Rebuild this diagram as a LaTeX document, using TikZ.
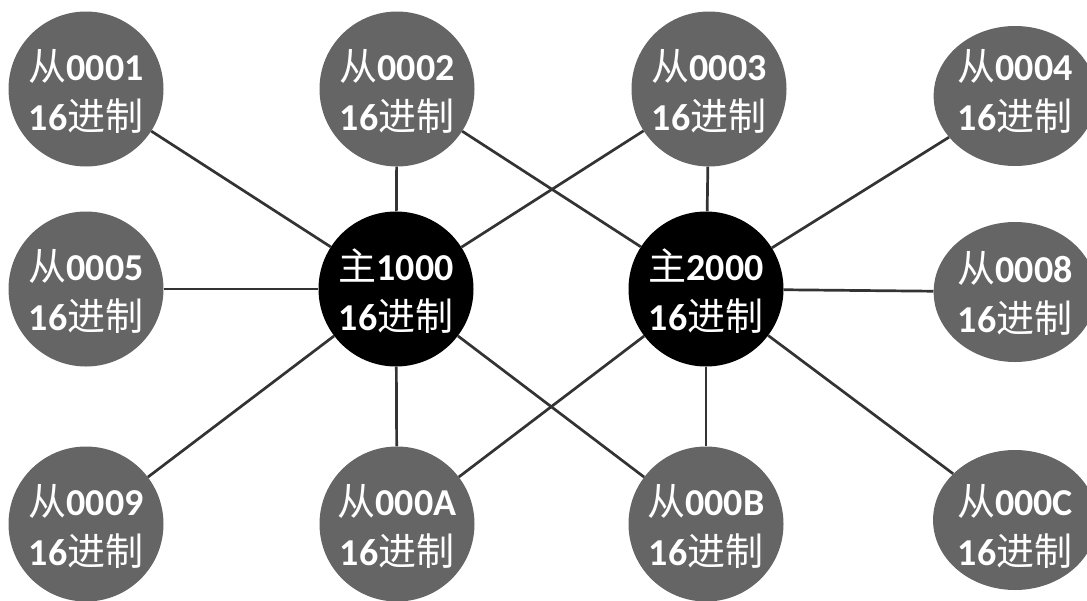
\documentclass[tikz,border=0pt]{standalone}
\usepackage{fontspec}
\setmainfont{Carlito}
\newfontfamily\cjk{Noto Sans CJK SC}
\usetikzlibrary{shapes.geometric}
\definecolor{slavefill}{HTML}{656565}
\definecolor{linkcol}{HTML}{333333}
\tikzset{
  base/.style={text=white, inner sep=0pt, font=\fontsize{38}{46}\selectfont},
  slave/.style={base, circle, fill=slavefill, minimum size=155pt},
  slaveR/.style={base, ellipse, fill=slavefill, minimum width=155pt, minimum height=140pt},
  master/.style={base, circle, fill=black, minimum size=155pt},
  link/.style={draw=linkcol, line width=2.7pt}
}
\newcommand{\twolines}[3]{\raisebox{-#1}[\height][\depth]{\begin{tabular}{@{}c@{}}#2\\[4pt]#3\end{tabular}}}
\newcommand{\slv}[2][7pt]{\twolines{#1}{{\cjk 从}\textbf{#2}}{\textbf{16}{\cjk 进制}}}
\newcommand{\mst}[1]{\twolines{7pt}{{\cjk 主}\textbf{#1}}{\textbf{16}{\cjk 进制}}}
\begin{document}
\begin{tikzpicture}[x=1pt,y=-1pt]
\useasboundingbox (0,0) rectangle (1087,600);
\node[slave] (s1) at (86,89) {\slv{0001}};
\node[slave] (s2) at (397,89) {\slv{0002}};
\node[slave] (s3) at (709,89) {\slv{0003}};
\node[slaveR] (s4) at (1015,96) {\slv[0pt]{0004}};
\node[slave] (s5) at (86,289) {\slv{0005}};
\node[master] (m1) at (396,289) {\mst{1000}};
\node[master] (m2) at (706,289) {\mst{2000}};
\node[slaveR] (s8) at (1015,292) {\slv[6pt]{0008}};
\node[slave] (s9) at (86,524) {\slv{0009}};
\node[slave] (sA) at (397,524) {\slv{000A}};
\node[slave] (sB) at (706,524) {\slv{000B}};
\node[slaveR] (sC) at (1015,520) {\slv[11pt]{000C}};
\draw[link] (s1) -- (m1);
\draw[link] (s2) -- (m1);
\draw[link] (s3) -- (m1);
\draw[link] (s5) -- (m1);
\draw[link] (s9) -- (m1);
\draw[link] (sA) -- (m1);
\draw[link] (sB) -- (m1);
\draw[link] (s2) -- (m2);
\draw[link] (s3) -- (m2);
\draw[link] (s4) -- (m2);
\draw[link] (s8) -- (m2);
\draw[link] (sC) -- (m2);
\draw[link] (sA) -- (m2);
\draw[link] (sB) -- (m2);
\end{tikzpicture}
\end{document}
